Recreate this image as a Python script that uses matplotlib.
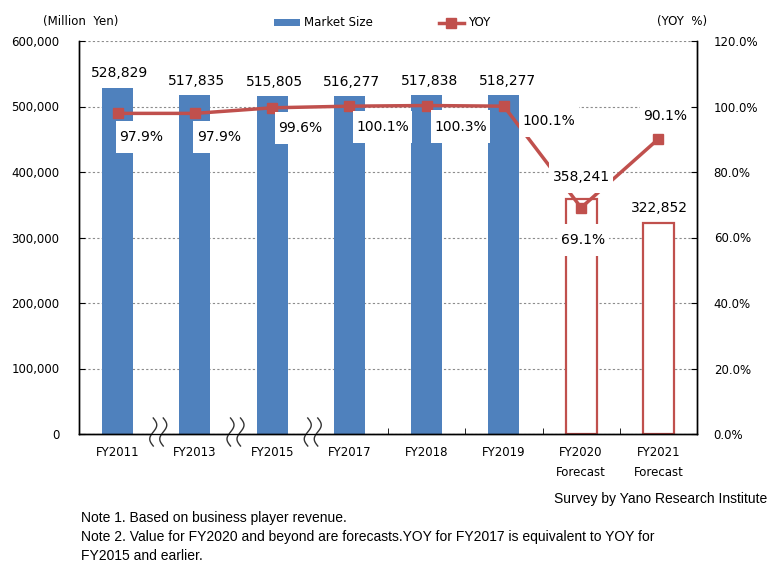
import matplotlib
matplotlib.use("Agg")
import matplotlib.pyplot as plt
import numpy as np
from matplotlib.lines import Line2D
from matplotlib.patches import Patch

years = ["FY2011", "FY2013", "FY2015", "FY2017", "FY2018", "FY2019",
         "FY2020\nForecast", "FY2021\nForecast"]
market = [528829, 517835, 515805, 516277, 517838, 518277, 358241, 322852]
yoy = [97.9, 97.9, 99.6, 100.1, 100.3, 100.1, 69.1, 90.1]
forecast = [False, False, False, False, False, False, True, True]

# label offsets in pixels (style only)
bar_off = [(2, 15), (2, 14), (2, 14), (2, 14), (3, 14), (4, 14), (0, 22), (1, 15)]
yoy_off = [(24, -24), (24, -24), (28, -20), (33, -21), (34, -21), (45, -15), (2, -32), (7, 23)]

BLUE = "#4F81BD"
RED = "#C0504D"
W, H = 779, 575

plt.rcParams["font.family"] = ["DejaVu Sans"]
fig = plt.figure(figsize=(W / 100, H / 100), dpi=100)
ax = fig.add_axes([79 / W, 1 - 434 / H, (697 - 79) / W, (434 - 41) / H])
ax2 = ax.twinx()

x = np.arange(len(years))
for i in range(len(years)):
    if forecast[i]:
        ax.bar(x[i], market[i], width=0.4, facecolor="white", edgecolor=RED, linewidth=1.6, zorder=2)
    else:
        ax.bar(x[i], market[i], width=0.4, color=BLUE, zorder=2)

ax.set_xlim(-0.5, len(years) - 0.5)
ax.set_ylim(0, 600000)
ax.set_yticks(np.arange(0, 600001, 100000))
ax.set_yticklabels([f"{v:,}" for v in range(0, 600001, 100000)])
ax.yaxis.grid(True, color="#8c8c8c", linestyle=(0, (2, 2)), linewidth=0.8)
ax.set_axisbelow(True)
ax.set_xticks(x)
ax.set_xticklabels(years, fontsize=8.5, linespacing=1.6)
ax.set_xticks([3.5, 4.5, 5.5, 6.5], minor=True)
ax.tick_params(axis="x", which="major", length=0, pad=9)
ax.tick_params(axis="x", which="minor", direction="in", length=4)
ax.tick_params(axis="y", direction="in", length=4, labelsize=8.5, pad=14)

ax2.plot(x, yoy, color=RED, linewidth=2.5, marker="s", markersize=6.5, zorder=3)
ax2.set_ylim(0, 120)
ax2.set_yticks(np.arange(0, 121, 20))
ax2.set_yticklabels([f"{v:.1f}%" for v in range(0, 121, 20)])
ax2.tick_params(axis="y", direction="in", length=4, labelsize=8.5, pad=12)

for a in (ax, ax2):
    a.spines["top"].set_visible(False)
    for s in ("left", "right", "bottom"):
        a.spines[s].set_linewidth(1.0)

bar_box = dict(boxstyle="square,pad=0.25", facecolor="white", edgecolor="none", mutation_aspect=1.4)
yoy_box = dict(boxstyle="square,pad=0.25", facecolor="white", edgecolor="none", mutation_aspect=2.6)
for i in range(len(years)):
    ax2.annotate(f"{market[i]:,}", xy=(x[i], market[i]), xycoords=ax.transData,
                 xytext=bar_off[i], textcoords="offset pixels", ha="center", va="center",
                 fontsize=10, bbox=bar_box if i != 6 else yoy_box, zorder=10)
    ax2.annotate(f"{yoy[i]:.1f}%", xy=(x[i], yoy[i]), xytext=yoy_off[i],
                 textcoords="offset pixels", ha="center", va="center",
                 fontsize=10, bbox=yoy_box, zorder=10)

# axis break marks between non-consecutive years
tr = ax.get_xaxis_transform()
t = np.linspace(0, 1, 50)
dy = (-12 + 28 * t) / 393
for b in [0.5, 1.5, 2.5]:
    c1 = b + (-3 - 3.5 * np.sin(2 * np.pi * t)) / 77.25
    c2 = c1 + 10 / 77.25
    ax.fill(np.concatenate([c1, c2[::-1]]), np.concatenate([dy, dy[::-1]]),
            color="white", transform=tr, clip_on=False, zorder=5)
    ax.plot(c1, dy, color="#333333", lw=1.0, transform=tr, clip_on=False, zorder=6)
    ax.plot(c2, dy, color="#333333", lw=1.0, transform=tr, clip_on=False, zorder=6)

handles = [Patch(facecolor=BLUE, edgecolor="none"),
           Line2D([], [], color=RED, lw=2.5, marker="s", markersize=6.5)]
fig.legend(handles, ["Market Size", "YOY"], loc="center left",
           bbox_to_anchor=(274 / W, 1 - 23 / H), ncol=2, frameon=False,
           fontsize=8.5, handlelength=2.2, handleheight=0.5, handletextpad=0.3,
           columnspacing=5.6, borderpad=0, borderaxespad=0)

fig.text(81 / W, 1 - 22 / H, "(Million  Yen)", ha="center", va="center", fontsize=8.5)
fig.text(682 / W, 1 - 22 / H, "(YOY  %)", ha="center", va="center", fontsize=8.5)

nf = ["Liberation Sans Narrow", "Liberation Sans", "DejaVu Sans"]
fig.text(767 / W, 1 - 499 / H, "Survey by Yano Research Institute", ha="right", va="center",
         fontsize=10, family=nf)
fig.text(81 / W, 1 - 518 / H, "Note 1. Based on business player revenue.", ha="left",
         va="center", fontsize=10, family=nf)
fig.text(81 / W, 1 - 537 / H,
         "Note 2. Value for FY2020 and beyond are forecasts.YOY for FY2017 is equivalent to YOY for",
         ha="left", va="center", fontsize=10, family=nf)
fig.text(81 / W, 1 - 556 / H, "FY2015 and earlier.", ha="left", va="center", fontsize=10, family=nf)

fig.savefig("out.png", dpi=100)
